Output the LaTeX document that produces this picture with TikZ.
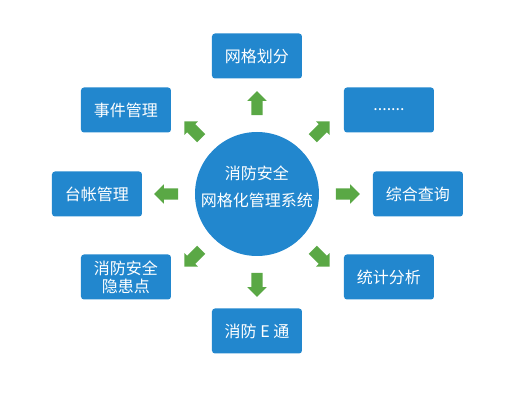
\documentclass[tikz,border=0pt]{standalone}
\usepackage{fontspec}
\newfontfamily\cjk{Noto Sans CJK SC}
\usepackage{tikz}
\usetikzlibrary{shapes.arrows,positioning,calc}
\definecolor{tile}{HTML}{2287CE}
\definecolor{leaf}{HTML}{5AA845}

\begin{document}
\begin{tikzpicture}[x=1pt,y=1pt,
  box/.style={rounded corners=3pt,fill=tile,text=white,align=center,minimum height=45pt,minimum width=90pt,inner sep=2pt,font=\cjk\fontsize{16}{18}\selectfont},
  hubnode/.style={circle,fill=tile,minimum size=124pt,inner sep=0pt},
  title/.style={text=white,align=center,font=\cjk\fontsize{16}{27}\selectfont},
  arr/.style={single arrow,fill=leaf,minimum height=24pt,single arrow head extend=4pt,inner xsep=0pt,inner ysep=5.5pt}]
  \useasboundingbox (-257,-207) rectangle (266,194);
  \node[hubnode] (hub) at (0,0) {};
  \node[title] (name) at ([yshift=7pt]hub.center) {消防安全\\网格化管理系统};
  % the eight tiles round the hub
  \node[box] (grid) at (0,138) {网格划分};
  \node[box] (more) at (132,84) {\raisebox{-2pt}{.......}};
  \node[box] (query) at (161,0) {综合查询};
  \node[box] (stats) at (132,-83) {统计分析};
  \node[box] (etong) at (0,-137) {消防 E 通};
  \node[box] (risk) at (-131,-83) {消防安全\\隐患点};
  \node[box] (ledger) at (-160,0) {台帐管理};
  \node[box] (event) at (-131,84) {事件管理};
  % green arrows
  \foreach \a in {0,45,...,315}
    \node[arr,rotate=\a] (arr\a) at ($(hub)+(\a:88)$) {};
\end{tikzpicture}
\end{document}
